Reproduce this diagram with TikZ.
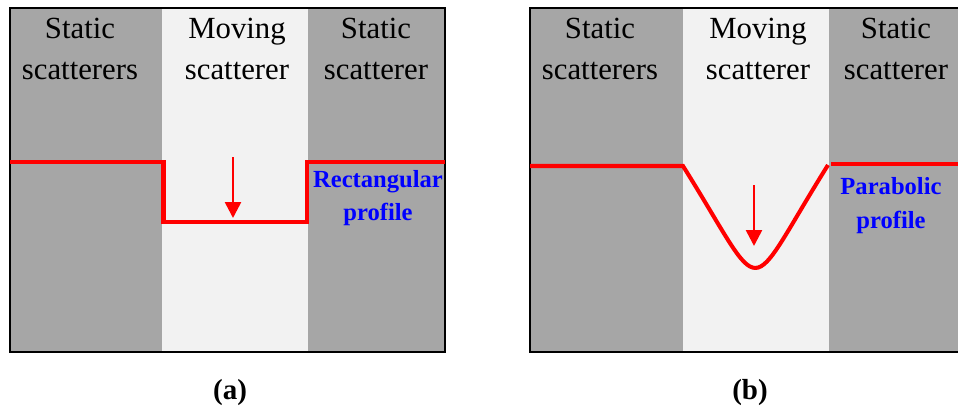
\documentclass[tikz,border=0pt]{standalone}
\usepackage{fontspec}
\setmainfont{Liberation Serif}
\usetikzlibrary{arrows.meta}
\definecolor{grayStatic}{RGB}{166,166,166}
\definecolor{grayMoving}{RGB}{242,242,242}
\definecolor{profileRed}{RGB}{255,0,0}
\definecolor{profileBlue}{RGB}{0,0,255}

\begin{document}
\begin{tikzpicture}[
  zonetext/.style={anchor=north, inner sep=0pt, align=center,
                   font=\fontsize{17.5}{23.3}\selectfont},
  profiletext/.style={anchor=north, inner sep=0pt, align=center, text=profileBlue,
                      font=\fontsize{14}{19}\selectfont\bfseries},
  profile/.style={profileRed, line width=2.3pt},
  fallarrow/.style={profileRed, line width=1.5pt, -{Triangle[length=3.2mm,width=3.2mm]}},
  paneltag/.style={anchor=base, font=\fontsize{16.5}{20}\selectfont\bfseries}]

\useasboundingbox (0,0) rectangle (19.16,8.16);

% panel (a)
\fill[grayStatic] (0.2,1.12) rectangle (8.9,8.0);
\fill[grayMoving] (3.24,1.12) rectangle (6.16,8.0);
\draw[line width=1.1pt] (0.2,1.12) rectangle (8.9,8.0);

\node[zonetext] (statL-a) at (1.6,7.8) {Static\\scatterers};
\node[zonetext] (mov-a) at (4.74,7.8) {Moving\\scatterer};
\node[zonetext] (statR-a) at (7.52,7.8) {Static\\scatterer};

\draw[profile] (0.2,4.92) -- (3.27,4.92) -- (3.27,3.72) -- (6.14,3.72)
  -- (6.14,4.92) -- (8.9,4.92);

\coordinate (fallA-top) at (4.66,5.02);
\coordinate (fallA-tip) at (4.66,3.80);
\draw[fallarrow] (fallA-top) -- (fallA-tip);

\node[profiletext] (prof-a) at (7.56,4.76) {Rectangular\\profile};
\node[paneltag] (tag-a) at (4.6,0.18) {(a)};

% panel (b)
\fill[grayStatic] (10.6,1.12) rectangle (19.3,8.0);
\fill[grayMoving] (13.66,1.12) rectangle (16.58,8.0);
\draw[line width=1.1pt] (10.6,1.12) rectangle (19.3,8.0);

\node[zonetext] (statL-b) at (12.0,7.8) {Static\\scatterers};
\node[zonetext] (mov-b) at (15.16,7.8) {Moving\\scatterer};
\node[zonetext] (statR-b) at (17.92,7.8) {Static\\scatterer};

\draw[profile] (10.6,4.84) -- (13.66,4.84)
  .. controls (15.37,2.108) and (14.85,2.128) .. (16.56,4.86);
\draw[profile] (16.62,4.874) -- (19.3,4.874);

\coordinate (fallB-top) at (15.08,4.46);
\coordinate (fallB-tip) at (15.08,3.24);
\draw[fallarrow] (fallB-top) -- (fallB-tip);

\node[profiletext] (prof-b) at (17.82,4.61) {Parabolic\\profile};
\node[paneltag] (tag-b) at (15.0,0.18) {(b)};

\end{tikzpicture}
\end{document}
